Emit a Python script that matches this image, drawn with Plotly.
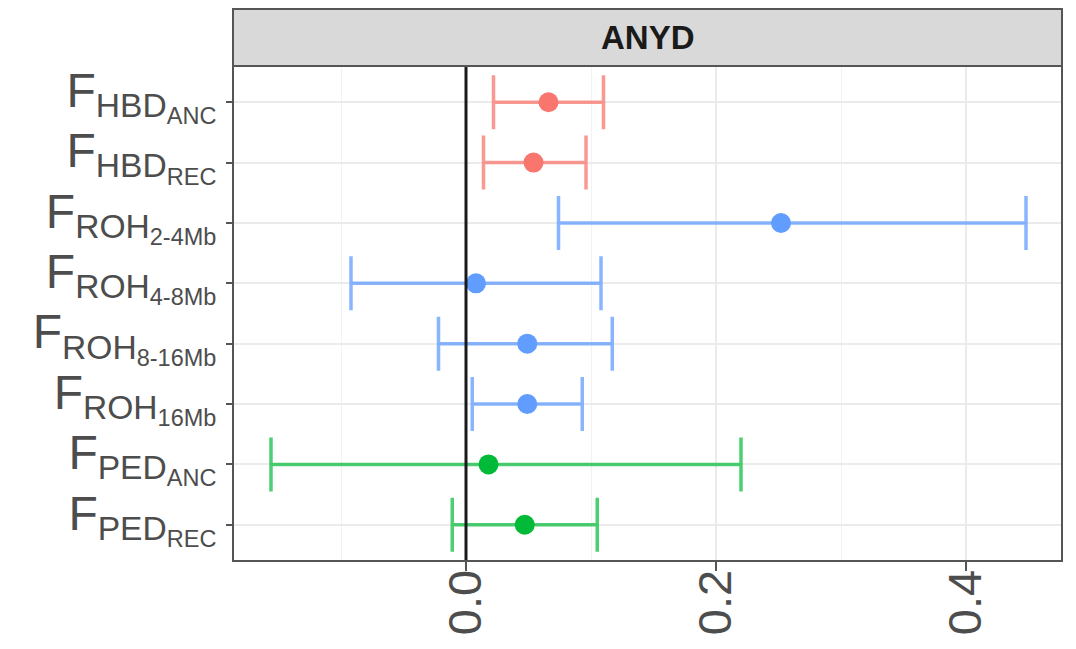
import plotly.graph_objects as go

# ---- data ----
labels = [
    "F<sub>HBD<sub>ANC</sub></sub>",
    "F<sub>HBD<sub>REC</sub></sub>",
    "F<sub>ROH<sub>2-4Mb</sub></sub>",
    "F<sub>ROH<sub>4-8Mb</sub></sub>",
    "F<sub>ROH<sub>8-16Mb</sub></sub>",
    "F<sub>ROH<sub>16Mb</sub></sub>",
    "F<sub>PED<sub>ANC</sub></sub>",
    "F<sub>PED<sub>REC</sub></sub>",
]
groups = ["HBD", "HBD", "ROH", "ROH", "ROH", "ROH", "PED", "PED"]
estimate = [0.066, 0.054, 0.252, 0.008, 0.049, 0.049, 0.018, 0.047]
ci_low = [0.022, 0.014, 0.074, -0.092, -0.022, 0.005, -0.156, -0.011]
ci_high = [0.110, 0.096, 0.448, 0.108, 0.117, 0.093, 0.220, 0.105]
facet_title = "ANYD"
x_ticks = [0.0, 0.2, 0.4]
x_tick_text = ["0.0", "0.2", "0.4"]

group_colors = {"HBD": "#F8766D", "ROH": "#619CFF", "PED": "#00BA38"}
group_bar_colors = {"HBD": "rgba(248,118,109,0.75)",
                    "ROH": "rgba(97,156,255,0.75)",
                    "PED": "rgba(0,186,56,0.7)"}

fig = go.Figure()

for g in ["HBD", "ROH", "PED"]:
    idx = [i for i, gg in enumerate(groups) if gg == g]
    xs = [estimate[i] for i in idx]
    ys = [labels[i] for i in idx]
    plus = [ci_high[i] - estimate[i] for i in idx]
    minus = [estimate[i] - ci_low[i] for i in idx]
    fig.add_trace(go.Scatter(
        x=xs, y=ys, mode="markers",
        marker=dict(color=group_colors[g], size=20),
        error_x=dict(type="data", symmetric=False, array=plus, arrayminus=minus,
                     color=group_bar_colors[g], thickness=3.5, width=27),
        showlegend=False, hoverinfo="skip",
    ))

fig.add_vline(x=0, line=dict(color="#1a1a1a", width=3), layer="above")

# panel border
fig.add_shape(type="rect", xref="paper", yref="paper", x0=0, x1=1, y0=0, y1=1,
              line=dict(color="#555555", width=2), layer="above")
# facet strip
strip_h = (66 - 9) / (561 - 66)
fig.add_shape(type="rect", xref="paper", yref="paper", x0=0, x1=1, y0=1, y1=1 + strip_h,
              line=dict(color="#555555", width=2), fillcolor="#D9D9D9", layer="above")
fig.add_annotation(text="<b>" + facet_title + "</b>", xref="paper", yref="paper",
                   x=0.5, y=1 + strip_h / 2, yanchor="middle", xanchor="center",
                   showarrow=False,
                   font=dict(family="Liberation Sans, Arial", size=33, color="#1a1a1a"))

fig.update_layout(
    width=1076, height=649,
    margin=dict(l=233, r=14, t=66, b=88, autoexpand=False),
    paper_bgcolor="white", plot_bgcolor="white",
    font=dict(family="Liberation Sans, Arial"),
)
fig.update_xaxes(
    range=[-0.1864, 0.4768], automargin=False,
    tickmode="array", tickvals=x_ticks, ticktext=x_tick_text, tickangle=-90,
    tickfont=dict(size=47, color="#4D4D4D"),
    ticks="outside", ticklen=9, tickwidth=2, tickcolor="#555555",
    ticklabelstandoff=-20,
    showgrid=True, gridcolor="#EBEBEB", gridwidth=1.5,
    minor=dict(tickvals=[-0.1, 0.1, 0.3], showgrid=True, gridcolor="#F2F2F2", gridwidth=1, ticks=""),
    zeroline=False, showline=False,
)
fig.update_yaxes(
    type="category", categoryorder="array", categoryarray=labels,
    range=[7.6, -0.6], automargin=False,
    tickmode="array", tickvals=labels, ticktext=labels,
    tickfont=dict(size=48, color="#4D4D4D"),
    ticks="outside", ticklen=6, tickwidth=2, tickcolor="#555555",
    ticklabelshift=12,
    showgrid=True, gridcolor="#EBEBEB", gridwidth=1.5,
    zeroline=False, showline=False,
)

fig.write_html("out.html")
